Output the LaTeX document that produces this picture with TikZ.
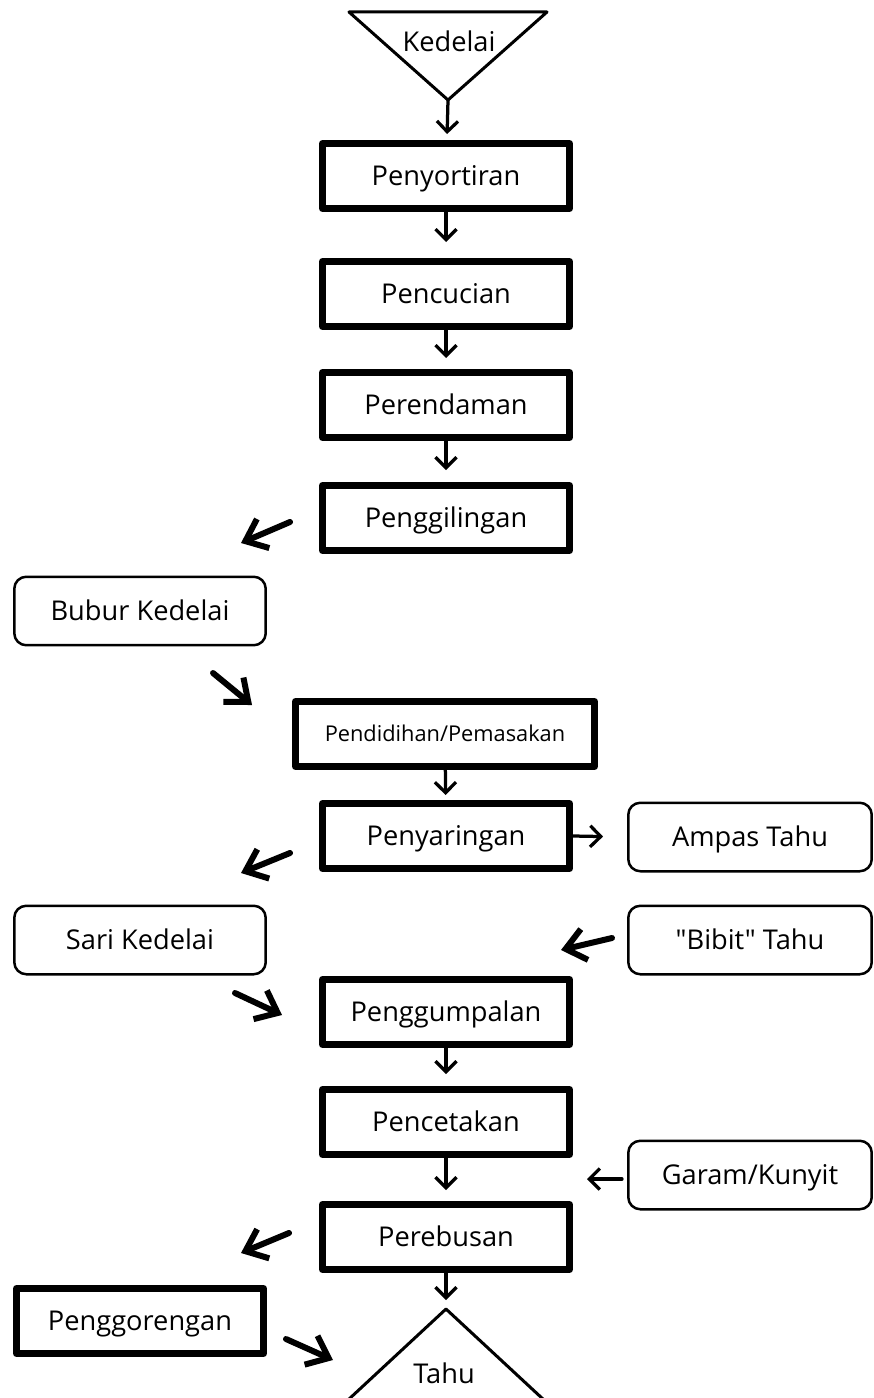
\documentclass[tikz,border=0pt]{standalone}
\usepackage{fontspec}
\setmainfont{Open Sans}
\newfontfamily\lurus{Open Sans}
\usetikzlibrary{arrows.meta}

\begin{document}
\begin{tikzpicture}[x=0.02cm, y=-0.02cm, line join=round, line cap=round,
		font=\fontsize{15.5}{18}\selectfont,
		proses/.style={draw, line width=0.14cm, minimum width=4.94cm, minimum height=1.30cm, inner sep=0pt, text height=11pt, text depth=0pt},
		bahan/.style={draw, line width=0.05cm, rounded corners=0.24cm, minimum width=5.03cm, minimum height=1.37cm, inner sep=0pt, text height=11pt, text depth=0pt},
		alir/.style={line width=0.065cm, -{Straight Barb[length=6pt,width=12pt]}},
		miring/.style={line width=0.12cm, -{Straight Barb[length=11pt,width=18pt]}}]
		\useasboundingbox (0,0) rectangle (873,1398);
		% bahan baku dan produk
		\draw[line width=0.06cm] (349,12) -- (547,12) -- (448,100) -- cycle;
		\coordinate (kedelai) at (448,100);
		\node[anchor=base] (kedelaitxt) at (449,52) {Kedelai};
		\draw[line width=0.06cm] (348,1400) -- (446,1309) -- (544,1400);
		\coordinate (tahu) at (446,1309);
		\node[anchor=base] (tahutxt) at (444,1383) {Tahu};
		% tahapan proses
		\node[proses] (sortir) at (446,176) {Penyortiran};
		\node[proses] (cuci) at (446,294) {Pencucian};
		\node[proses] (rendam) at (446,405) {Perendaman};
		\node[proses] (giling) at (446,518) {Penggilingan};
		\node[proses, minimum width=5.98cm, font=\fontsize{12.4}{15}\selectfont, text height=8.8pt] (didih) at (445,734) {Pendidihan/Pemasakan};
		\node[proses] (saring) at (446,836) {Penyaringan};
		\node[proses] (gumpal) at (446,1012) {Penggumpalan};
		\node[proses] (cetak) at (446,1122) {Pencetakan};
		\node[proses] (rebus) at (446,1237) {Perebusan};
		\node[proses] (goreng) at (140,1321) {Penggorengan};
		% bahan antara dan tambahan
		\node[bahan] (bubur) at (140,611) {Bubur Kedelai};
		\node[bahan] (sari) at (140,940) {Sari Kedelai};
		\node[bahan, minimum width=4.87cm] (ampas) at (750,837) {Ampas Tahu};
		\node[bahan, minimum width=4.87cm] (bibit) at (750,940) {\lurus "Bibit" Tahu};
		\node[bahan, minimum width=4.87cm] (garam) at (750,1175) {Garam/Kunyit};
		% panah lurus
		\foreach \a/\b/\s in {kedelai/sortir/6, sortir/cuci/16, cuci/rendam/11, rendam/giling/12,
			didih/saring/5, gumpal/cetak/12, cetak/rebus/11, rebus/tahu/9}
		\draw[alir, shorten >=\s*0.02cm] (\a) -- (\b);
		\draw[alir, shorten >=0.48cm] (saring.east) -- (ampas.west);
		\coordinate (garam-in) at (587,1179);
		\draw[alir, shorten <=0.1cm] (garam.west |- garam-in) -- (garam-in);
		% panah miring
		\coordinate (giling-out) at (290,522);  \coordinate (bubur-in) at (241,543);
		\coordinate (bubur-out) at (213,673);   \coordinate (didih-in) at (252,705);
		\coordinate (saring-out) at (290,853);  \coordinate (sari-in) at (241,873);
		\coordinate (bibit-out) at (612,938);   \coordinate (bibit-in) at (561,950);
		\coordinate (sari-out) at (235,993);    \coordinate (gumpal-in) at (282,1015);
		\coordinate (rebus-out) at (289,1233);  \coordinate (goreng-in) at (241,1253);
		\coordinate (goreng-out) at (286,1339); \coordinate (tahu-in) at (333,1360);
		\foreach \p/\q in {giling-out/bubur-in, bubur-out/didih-in, saring-out/sari-in, bibit-out/bibit-in,
			sari-out/gumpal-in, rebus-out/goreng-in, goreng-out/tahu-in}
		\draw[miring] (\p) -- (\q);
\end{tikzpicture}
\end{document}
